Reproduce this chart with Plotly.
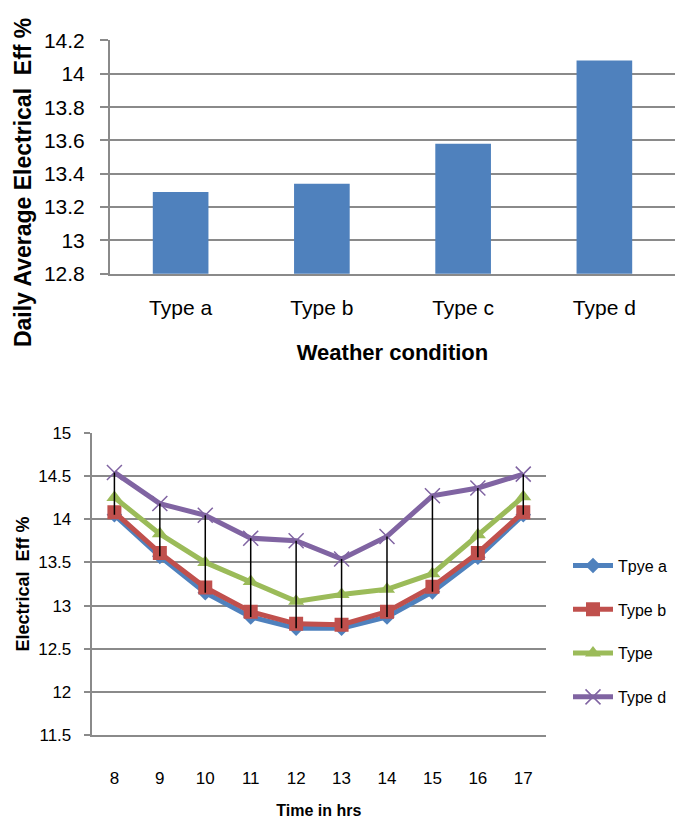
import plotly.graph_objects as go

# ---- data: top chart (daily average) ----
weather_types = ["Type a", "Type b", "Type c", "Type d"]
daily_avg_eff = [13.29, 13.34, 13.58, 14.08]

# ---- data: bottom chart (hourly) ----
hours = [8, 9, 10, 11, 12, 13, 14, 15, 16, 17]
series_names = ["Tpye a", "Type b", "Type", "Type d"]
eff_type_a = [14.05, 13.57, 13.15, 12.87, 12.74, 12.74, 12.87, 13.16, 13.56, 14.05]
eff_type_b = [14.08, 13.61, 13.21, 12.93, 12.79, 12.78, 12.93, 13.22, 13.61, 14.08]
eff_type_c = [14.25, 13.83, 13.50, 13.28, 13.05, 13.13, 13.19, 13.37, 13.82, 14.26]
eff_type_d = [14.54, 14.18, 14.045, 13.78, 13.75, 13.54, 13.80, 14.27, 14.36, 14.52]

top_ticks = [12.8, 13, 13.2, 13.4, 13.6, 13.8, 14, 14.2]
top_tick_text = ["12.8", "13", "13.2", "13.4", "13.6", "13.8", "14", "14.2"]
bottom_ticks = [11.5, 12, 12.5, 13, 13.5, 14, 14.5, 15]
bottom_tick_text = ["11.5", "12", "12.5", "13", "13.5", "14", "14.5", "15"]

FONT = "Liberation Sans, Arial, sans-serif"
GRID = "#8a8a8a"

fig = go.Figure()

fig.add_trace(go.Bar(
    x=weather_types, y=daily_avg_eff, marker=dict(color="#4F81BD", line=dict(width=0)),
    xaxis="x", yaxis="y", showlegend=False,
))

all_series = [eff_type_a, eff_type_b, eff_type_c, eff_type_d]
colors = ["#4F81BD", "#C0504D", "#9BBB59", "#8064A2"]
markers = [
    dict(symbol="diamond", size=12, color="#4F81BD"),
    dict(symbol="square", size=14, color="#C0504D"),
    dict(symbol="triangle-up", size=14, color="#9BBB59"),
    dict(symbol="x-thin", size=15, color="#8064A2", line=dict(width=1.5, color="#8064A2")),
]
for i, (name, vals) in enumerate(zip(series_names, all_series)):
    fig.add_trace(go.Scatter(
        x=hours, y=vals, name=name, mode="lines+markers",
        line=dict(color=colors[i], width=5), marker=markers[i],
        xaxis="x2", yaxis="y2", legendgroup=name,
    ))

# high-low lines
hl_x, hl_y = [], []
for j, h in enumerate(hours):
    col = [s[j] for s in all_series]
    hl_x += [h, h, None]
    hl_y += [min(col), max(col), None]
fig.add_trace(go.Scatter(
    x=hl_x, y=hl_y, mode="lines", line=dict(color="black", width=1.5),
    xaxis="x2", yaxis="y2", showlegend=False, hoverinfo="skip",
))

fig.update_layout(
    width=681, height=823, autosize=False,
    margin=dict(l=0, r=0, t=0, b=0),
    paper_bgcolor="white", plot_bgcolor="white",
    font=dict(family=FONT, color="black"),
    bargap=0.606,
    xaxis=dict(
        domain=[110 / 681, 675 / 681], anchor="y", type="category",
        showline=True, linecolor=GRID, linewidth=2, mirror=False,
        ticks="", tickfont=dict(size=21), ticklabelstandoff=14,
        showgrid=False,
        title=dict(text="Weather condition", font=dict(size=22, weight="bold"), standoff=27),
    ),
    yaxis=dict(
        domain=[1 - 269.3 / 823, 1 - 29.3 / 823], anchor="x",
        range=[12.8, 14.2], tickvals=top_ticks, ticktext=top_tick_text,
        showline=True, linecolor=GRID, linewidth=2,
        ticks="outside", ticklen=8, tickcolor=GRID, tickwidth=2,
        tickfont=dict(size=21), ticklabelstandoff=11,
        showgrid=True, gridcolor=GRID, gridwidth=2, zeroline=False,
    ),
    xaxis2=dict(
        domain=[91.7 / 681, 546 / 681], anchor="y2",
        range=[7.5, 17.5], tickvals=hours, ticktext=[str(h) for h in hours],
        showline=True, linecolor=GRID, linewidth=2,
        ticks="", tickfont=dict(size=17), ticklabelstandoff=26,
        showgrid=False, zeroline=False,
        title=dict(text="Time in hrs", font=dict(size=16, weight="bold"), standoff=18),
    ),
    yaxis2=dict(
        domain=[1 - 744.3 / 823, 1 - 432.7 / 823], anchor="x2",
        range=[11.5, 15], tickvals=bottom_ticks, ticktext=bottom_tick_text,
        showline=True, linecolor=GRID, linewidth=2,
        ticks="outside", ticklen=6, tickcolor=GRID, tickwidth=2,
        tickfont=dict(size=17), ticklabelstandoff=9,
        showgrid=True, gridcolor=GRID, gridwidth=2, zeroline=False,
        title=dict(text="Electrical  Eff %", font=dict(size=18, weight="bold"), standoff=4),
    ),
    legend=dict(
        x=568 / 681, xanchor="left", y=1 - 552 / 823, yanchor="top",
        font=dict(size=16), tracegroupgap=20, itemwidth=40,
        bgcolor="rgba(0,0,0,0)",
    ),
    annotations=[dict(
        text="Daily Average Electrical  Eff %", textangle=-90,
        xref="paper", yref="paper", x=23 / 681, y=1 - 176 / 823,
        xanchor="center", yanchor="middle", showarrow=False,
        font=dict(size=23, weight="bold"),
    )],
)

fig.write_html("out.html")
